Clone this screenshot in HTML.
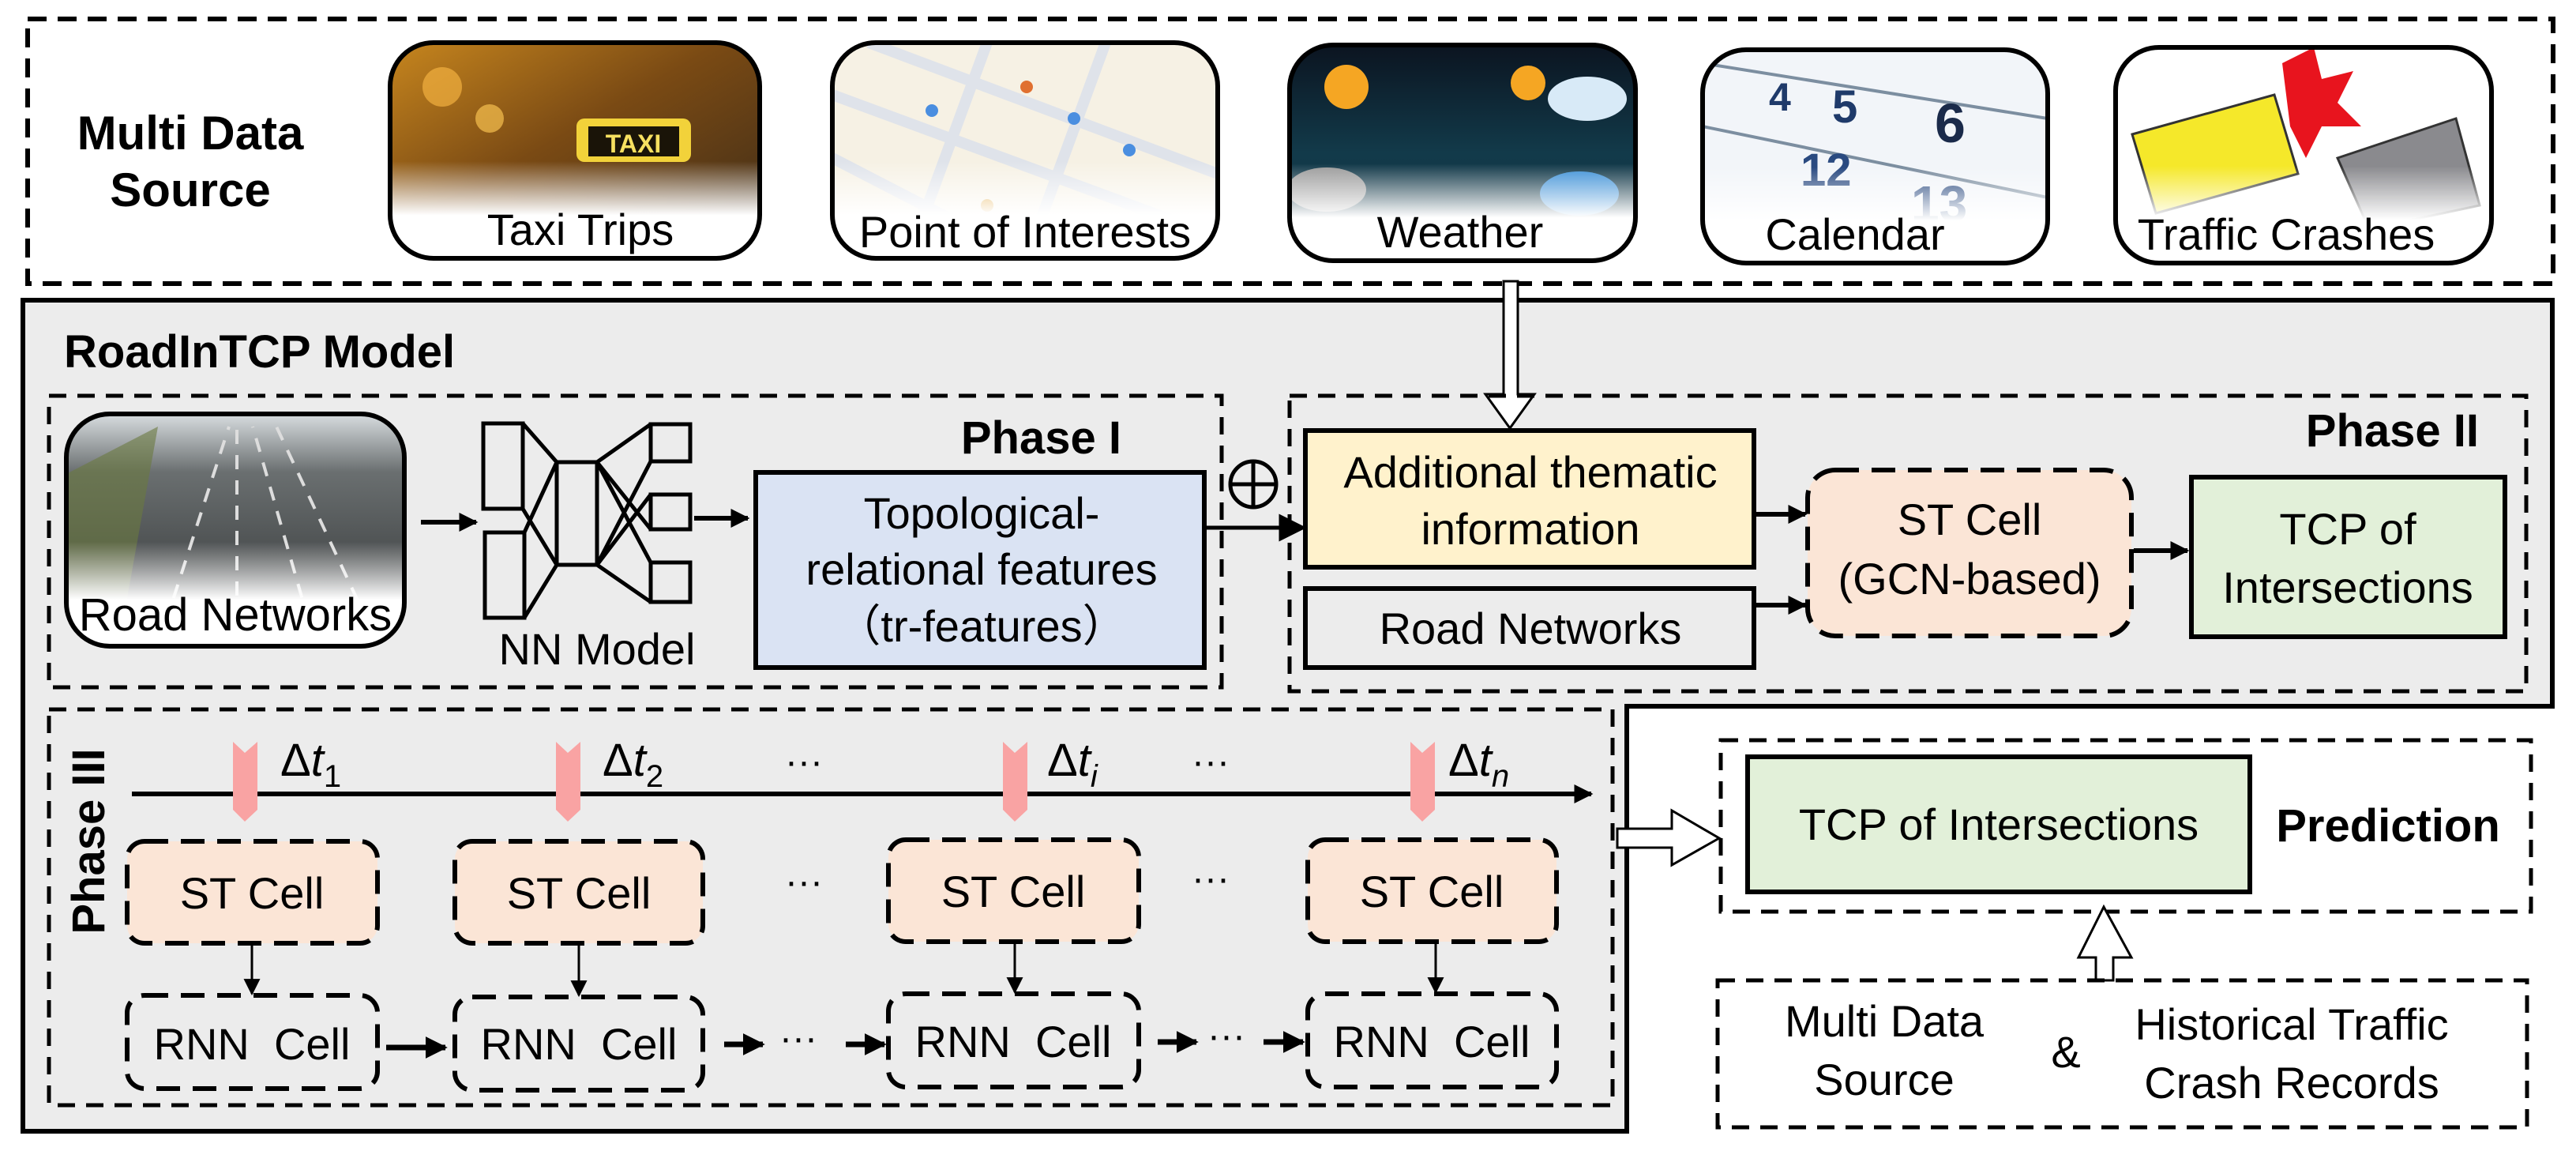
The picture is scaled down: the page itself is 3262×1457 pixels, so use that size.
<!DOCTYPE html>
<html><head><meta charset="utf-8"><style>
html,body{margin:0;padding:0;background:#fff;}
svg{display:block;}
text{font-family:"Liberation Sans",Arial,sans-serif;}
</style></head><body>
<svg width="3262" height="1457" viewBox="0 0 3262 1457" xmlns="http://www.w3.org/2000/svg">
<defs>
<marker id="ah" viewBox="0 0 10 10" refX="9" refY="5" markerWidth="4" markerHeight="4" orient="auto" markerUnits="strokeWidth"><path d="M0,0 L10,5 L0,10 z" fill="#000"/></marker>
<marker id="ah2" viewBox="0 0 10 10" refX="9" refY="5" markerWidth="7" markerHeight="7" orient="auto" markerUnits="strokeWidth"><path d="M0,0 L10,5 L0,10 z" fill="#000"/></marker>
<linearGradient id="fadeW" x1="0" y1="0" x2="0" y2="1"><stop offset="0.55" stop-color="#fff" stop-opacity="0"/><stop offset="0.8" stop-color="#fff" stop-opacity="1"/></linearGradient>
<linearGradient id="taxi" x1="0" y1="0" x2="1" y2="1"><stop offset="0" stop-color="#c7861e"/><stop offset="0.45" stop-color="#7a4a14"/><stop offset="1" stop-color="#3a2a18"/></linearGradient>
<linearGradient id="wea" x1="0" y1="0" x2="0" y2="1"><stop offset="0" stop-color="#0b1420"/><stop offset="0.5" stop-color="#123a4a"/><stop offset="1" stop-color="#0f3040"/></linearGradient>
<linearGradient id="road" x1="0" y1="0" x2="0" y2="1"><stop offset="0" stop-color="#d8dde0"/><stop offset="0.25" stop-color="#6a6f70"/><stop offset="1" stop-color="#2b2d2e"/></linearGradient>
<clipPath id="c1"><rect x="494" y="54" width="468" height="273" rx="55"/></clipPath>
<clipPath id="c2"><rect x="1054" y="54" width="488" height="273" rx="55"/></clipPath>
<clipPath id="c3"><rect x="1633" y="57" width="438" height="273" rx="55"/></clipPath>
<clipPath id="c4"><rect x="2156" y="63" width="437" height="270" rx="55"/></clipPath>
<clipPath id="c5"><rect x="2679" y="60" width="476" height="273" rx="55"/></clipPath>
<clipPath id="c6"><rect x="84" y="524" width="428" height="294" rx="55"/></clipPath>
</defs>

<!-- Top dashed box -->
<rect x="35" y="24" width="3198" height="335" fill="none" stroke="#000" stroke-width="6" stroke-dasharray="24,14"/>
<text x="241" y="189" font-size="60" font-weight="bold" text-anchor="middle">Multi Data</text>
<text x="241" y="261" font-size="60" font-weight="bold" text-anchor="middle">Source</text>

<!-- Taxi -->
<g clip-path="url(#c1)">
<rect x="494" y="54" width="468" height="273" fill="url(#taxi)"/>
<circle cx="560" cy="110" r="25" fill="#f2b040" opacity="0.7"/><circle cx="620" cy="150" r="18" fill="#f6c050" opacity="0.7"/>
<rect x="730" y="150" width="145" height="55" rx="10" fill="#f2d23a"/>
<rect x="745" y="160" width="115" height="38" fill="#1a1408"/>
<text x="802" y="193" font-size="32" font-weight="bold" fill="#f7e060" text-anchor="middle">TAXI</text>
<rect x="494" y="54" width="468" height="273" fill="url(#fadeW)"/>
</g>
<rect x="494" y="54" width="468" height="273" rx="55" fill="none" stroke="#000" stroke-width="6"/>
<text x="735" y="310" font-size="56" text-anchor="middle">Taxi Trips</text>

<!-- POI -->
<g clip-path="url(#c2)">
<rect x="1054" y="54" width="488" height="273" fill="#f6f1e4"/>
<path d="M1054,120 L1542,300 M1100,54 L1542,220 M1054,200 L1300,327 M1250,54 L1150,327 M1400,54 L1300,327" stroke="#dfe3ea" stroke-width="14"/>
<circle cx="1180" cy="140" r="8" fill="#4a8ee0"/><circle cx="1300" cy="110" r="8" fill="#e07030"/><circle cx="1360" cy="150" r="8" fill="#4a8ee0"/><circle cx="1430" cy="190" r="8" fill="#4a8ee0"/><circle cx="1250" cy="260" r="8" fill="#e0a030"/>
<rect x="1054" y="54" width="488" height="273" fill="url(#fadeW)"/>
</g>
<rect x="1054" y="54" width="488" height="273" rx="55" fill="none" stroke="#000" stroke-width="6"/>
<text x="1298" y="313" font-size="56" text-anchor="middle">Point of Interests</text>

<!-- Weather -->
<g clip-path="url(#c3)">
<rect x="1633" y="57" width="438" height="273" fill="url(#wea)"/>
<circle cx="1705" cy="110" r="28" fill="#f5a623"/>
<circle cx="1935" cy="105" r="22" fill="#f5a623"/>
<ellipse cx="2010" cy="125" rx="50" ry="28" fill="#d8eaf7"/>
<ellipse cx="1680" cy="240" rx="50" ry="28" fill="#9a9a9a"/>
<ellipse cx="2000" cy="245" rx="50" ry="28" fill="#3b8fd6"/>
<rect x="1633" y="57" width="438" height="273" fill="url(#fadeW)"/>
</g>
<rect x="1633" y="57" width="438" height="273" rx="55" fill="none" stroke="#000" stroke-width="6"/>
<text x="1849" y="313" font-size="56" text-anchor="middle">Weather</text>

<!-- Calendar -->
<g clip-path="url(#c4)">
<rect x="2156" y="63" width="437" height="270" fill="#f2f5f9"/>
<path d="M2156,80 L2593,150 M2156,160 L2593,250" stroke="#7c8ea0" stroke-width="4"/>
<text x="2240" y="140" font-size="50" fill="#1f3a6a" font-weight="bold">4</text>
<text x="2320" y="155" font-size="58" fill="#1f3a6a" font-weight="bold">5</text>
<text x="2450" y="180" font-size="70" fill="#1a2a4a" font-weight="bold">6</text>
<text x="2280" y="235" font-size="58" fill="#2a4a80" font-weight="bold">12</text>
<text x="2420" y="280" font-size="64" fill="#2a4a80" font-weight="bold">13</text>
<rect x="2156" y="63" width="437" height="270" fill="url(#fadeW)"/>
</g>
<rect x="2156" y="63" width="437" height="270" rx="55" fill="none" stroke="#000" stroke-width="6"/>
<text x="2349" y="316" font-size="56" text-anchor="middle">Calendar</text>

<!-- Traffic crashes -->
<g clip-path="url(#c5)">
<rect x="2679" y="60" width="476" height="273" fill="#fff"/>
<path d="M2700,170 L2880,120 L2910,220 L2730,270 z" fill="#f5e82a" stroke="#333" stroke-width="3"/>
<path d="M2960,200 L3110,150 L3140,260 L3000,290 z" fill="#8a8a8e" stroke="#333" stroke-width="3"/>
<polygon points="2890,80 2930,60 2940,100 2980,90 2960,130 2990,160 2940,160 2920,200 2900,160" fill="#e8141e"/>
<rect x="2679" y="60" width="476" height="273" fill="url(#fadeW)"/>
</g>
<rect x="2679" y="60" width="476" height="273" rx="55" fill="none" stroke="#000" stroke-width="6"/>
<text x="2895" y="316" font-size="56" text-anchor="middle">Traffic Crashes</text>

<!-- Main gray box -->
<path d="M29,380 L3232,380 L3232,894 L2060,894 L2060,1432 L29,1432 Z" fill="#ececec" stroke="#000" stroke-width="6"/>
<text x="81" y="465" font-size="58" font-weight="bold">RoadInTCP Model</text>

<!-- hollow arrow down -->
<path d="M1904,356 L1904,499 L1881,499 L1912,542 L1943,499 L1922,499 L1922,356 Z" fill="#fff" stroke="#000" stroke-width="3"/>

<!-- Phase I -->
<rect x="62" y="501" width="1485" height="369" fill="none" stroke="#000" stroke-width="5" stroke-dasharray="22,14"/>
<text x="1420" y="574" font-size="58" font-weight="bold" text-anchor="end">Phase I</text>
<g clip-path="url(#c6)">
<rect x="84" y="524" width="428" height="294" fill="url(#road)"/>
<path d="M200,818 L290,540 M300,818 L300,540 M400,818 L320,540 M480,818 L350,540" stroke="#ddd" stroke-width="4" stroke-dasharray="18,14"/>
<path d="M84,600 L200,540 L150,818 L84,818 Z" fill="#6a7a40" opacity="0.6"/>
<rect x="84" y="524" width="428" height="294" fill="url(#fadeW)"/>
</g>
<rect x="84" y="524" width="428" height="294" rx="55" fill="none" stroke="#000" stroke-width="6"/>
<text x="298" y="798" font-size="58" text-anchor="middle">Road Networks</text>
<line x1="533" y1="661" x2="603" y2="661" stroke="#000" stroke-width="6" marker-end="url(#ah)"/>
<!-- NN -->
<g fill="none" stroke="#000" stroke-width="5">
<rect x="612" y="536" width="50" height="108"/>
<rect x="614" y="674" width="50" height="108"/>
<rect x="705" y="585" width="51" height="130"/>
<rect x="824" y="537" width="50" height="47"/>
<rect x="824" y="626" width="50" height="44"/>
<rect x="824" y="712" width="50" height="50"/>
<path d="M662,536 L705,585 M662,644 L705,715 M664,674 L705,585 M664,782 L705,715 M756,585 L824,537 M756,585 L824,670 M756,585 L824,712 M756,715 L824,626 M756,715 L824,762 M756,715 L824,584"/>
</g>
<text x="756" y="841" font-size="56" text-anchor="middle">NN Model</text>
<line x1="879" y1="656" x2="947" y2="656" stroke="#000" stroke-width="6" marker-end="url(#ah)"/>
<rect x="957" y="598" width="568" height="247" fill="#dae3f3" stroke="#000" stroke-width="6"/>
<text x="1243" y="669" font-size="56" text-anchor="middle">Topological-</text>
<text x="1243" y="740" font-size="56" text-anchor="middle">relational features</text>
<text x="1243" y="812" font-size="56" text-anchor="middle">（tr-features）</text>
<circle cx="1587" cy="613" r="29" fill="none" stroke="#000" stroke-width="5"/>
<path d="M1558,613 L1616,613 M1587,584 L1587,642" stroke="#000" stroke-width="5"/>
<line x1="1525" y1="668" x2="1651" y2="668" stroke="#000" stroke-width="5" marker-end="url(#ah2)"/>

<!-- Phase II -->
<rect x="1633" y="501" width="1566" height="374" fill="none" stroke="#000" stroke-width="5" stroke-dasharray="22,14"/>
<text x="3139" y="565" font-size="58" font-weight="bold" text-anchor="end">Phase II</text>
<rect x="1653" y="545" width="568" height="173" fill="#fff2cc" stroke="#000" stroke-width="6"/>
<text x="1938" y="617" font-size="56" text-anchor="middle">Additional thematic</text>
<text x="1938" y="689" font-size="56" text-anchor="middle">information</text>
<rect x="1653" y="745" width="568" height="100" fill="#ececec" stroke="#000" stroke-width="6"/>
<text x="1938" y="815" font-size="56" text-anchor="middle">Road Networks</text>
<line x1="2221" y1="651" x2="2286" y2="651" stroke="#000" stroke-width="6" marker-end="url(#ah)"/>
<line x1="2221" y1="766" x2="2286" y2="766" stroke="#000" stroke-width="6" marker-end="url(#ah)"/>
<rect x="2289" y="595" width="410" height="210" rx="35" fill="#fbe5d6" stroke="#000" stroke-width="6" stroke-dasharray="30,16"/>
<text x="2494" y="677" font-size="56" text-anchor="middle">ST Cell</text>
<text x="2494" y="752" font-size="56" text-anchor="middle">(GCN-based)</text>
<line x1="2702" y1="697" x2="2770" y2="697" stroke="#000" stroke-width="6" marker-end="url(#ah)"/>
<rect x="2775" y="604" width="397" height="202" fill="#e2f0d9" stroke="#000" stroke-width="6"/>
<text x="2973" y="689" font-size="56" text-anchor="middle">TCP of</text>
<text x="2973" y="763" font-size="56" text-anchor="middle">Intersections</text>

<!-- Phase III -->
<rect x="62" y="898" width="1980" height="501" fill="none" stroke="#000" stroke-width="5" stroke-dasharray="22,14"/>
<text transform="translate(132,1065) rotate(-90)" font-size="58" font-weight="bold" text-anchor="middle">Phase III</text>
<line x1="167" y1="1005" x2="2015" y2="1005" stroke="#000" stroke-width="6" marker-end="url(#ah)"/>
<g fill="#f9a3a3">
<polygon points="295,939 310,953 326,939 326,1025 310,1040 295,1025"/>
<polygon points="704,939 719,953 735,939 735,1025 719,1040 704,1025"/>
<polygon points="1270,939 1285,953 1301,939 1301,1025 1285,1040 1270,1025"/>
<polygon points="1786,939 1801,953 1817,939 1817,1025 1801,1040 1786,1025"/>
</g>
<g font-family="Liberation Serif,serif" font-size="58">
<text x="355" y="982">Δ<tspan font-style="italic">t</tspan><tspan font-size="40" dy="14">1</tspan></text>
<text x="763" y="982">Δ<tspan font-style="italic">t</tspan><tspan font-size="40" dy="14">2</tspan></text>
<text x="1326" y="982">Δ<tspan font-style="italic">t</tspan><tspan font-size="40" font-style="italic" dy="14">i</tspan></text>
<text x="1834" y="982">Δ<tspan font-style="italic">t</tspan><tspan font-size="40" font-style="italic" dy="14">n</tspan></text>
</g>
<g font-size="48" text-anchor="middle">
<text x="1018" y="980">···</text><text x="1533" y="980">···</text>
<text x="1018" y="1132">···</text><text x="1533" y="1128">···</text>
<text x="1011" y="1330">···</text><text x="1553" y="1327">···</text>
</g>
<g stroke="#000" stroke-width="6" stroke-dasharray="30,16">
<rect x="161" y="1065" width="317" height="129" rx="22" fill="#fbe5d6"/>
<rect x="576" y="1065" width="314" height="129" rx="22" fill="#fbe5d6"/>
<rect x="1125" y="1063" width="317" height="129" rx="22" fill="#fbe5d6"/>
<rect x="1656" y="1063" width="315" height="129" rx="22" fill="#fbe5d6"/>
<rect x="161" y="1260" width="317" height="118" rx="22" fill="none"/>
<rect x="576" y="1262" width="314" height="118" rx="22" fill="none"/>
<rect x="1125" y="1258" width="317" height="118" rx="22" fill="none"/>
<rect x="1656" y="1258" width="315" height="118" rx="22" fill="none"/>
</g>
<g font-size="56" text-anchor="middle">
<text x="319" y="1150">ST Cell</text><text x="733" y="1150">ST Cell</text>
<text x="1283" y="1148">ST Cell</text><text x="1813" y="1148">ST Cell</text>
<text x="319" y="1341" xml:space="preserve">RNN  Cell</text><text x="733" y="1341" xml:space="preserve">RNN  Cell</text>
<text x="1283" y="1338" xml:space="preserve">RNN  Cell</text><text x="1813" y="1338" xml:space="preserve">RNN  Cell</text>
</g>
<g stroke="#000" stroke-width="3">
<line x1="319" y1="1194" x2="319" y2="1258" marker-end="url(#ah2)"/>
<line x1="733" y1="1194" x2="733" y2="1260" marker-end="url(#ah2)"/>
<line x1="1285" y1="1192" x2="1285" y2="1256" marker-end="url(#ah2)"/>
<line x1="1818" y1="1192" x2="1818" y2="1256" marker-end="url(#ah2)"/>
</g>
<g stroke="#000" stroke-width="7">
<line x1="489" y1="1326" x2="564" y2="1326" marker-end="url(#ah)"/>
<line x1="917" y1="1322" x2="966" y2="1322" marker-end="url(#ah)"/>
<line x1="1071" y1="1322" x2="1120" y2="1322" marker-end="url(#ah)"/>
<line x1="1466" y1="1319" x2="1515" y2="1319" marker-end="url(#ah)"/>
<line x1="1600" y1="1319" x2="1650" y2="1319" marker-end="url(#ah)"/>
</g>

<!-- Prediction -->
<path d="M2048,1049 L2117,1049 L2117,1026 L2177,1061 L2117,1095 L2117,1073 L2048,1073 Z" fill="#fff" stroke="#000" stroke-width="3"/>
<rect x="2179" y="937" width="1026" height="217" fill="none" stroke="#000" stroke-width="5" stroke-dasharray="22,14"/>
<rect x="2213" y="958" width="636" height="171" fill="#e2f0d9" stroke="#000" stroke-width="6"/>
<text x="2531" y="1063" font-size="56" text-anchor="middle">TCP of Intersections</text>
<text x="3024" y="1065" font-size="58" font-weight="bold" text-anchor="middle">Prediction</text>
<path d="M2664,1148 L2699,1212 L2676,1212 L2676,1241 L2654,1241 L2654,1212 L2632,1212 Z" fill="#fff" stroke="#000" stroke-width="3"/>
<rect x="2175" y="1241" width="1025" height="186" fill="none" stroke="#000" stroke-width="5" stroke-dasharray="22,14"/>
<text x="2386" y="1312" font-size="56" text-anchor="middle">Multi Data</text>
<text x="2386" y="1386" font-size="56" text-anchor="middle">Source</text>
<text x="2616" y="1351" font-size="56" text-anchor="middle">&amp;</text>
<text x="2902" y="1316" font-size="56" text-anchor="middle">Historical Traffic</text>
<text x="2902" y="1390" font-size="56" text-anchor="middle">Crash Records</text>
</svg>
</body></html>
